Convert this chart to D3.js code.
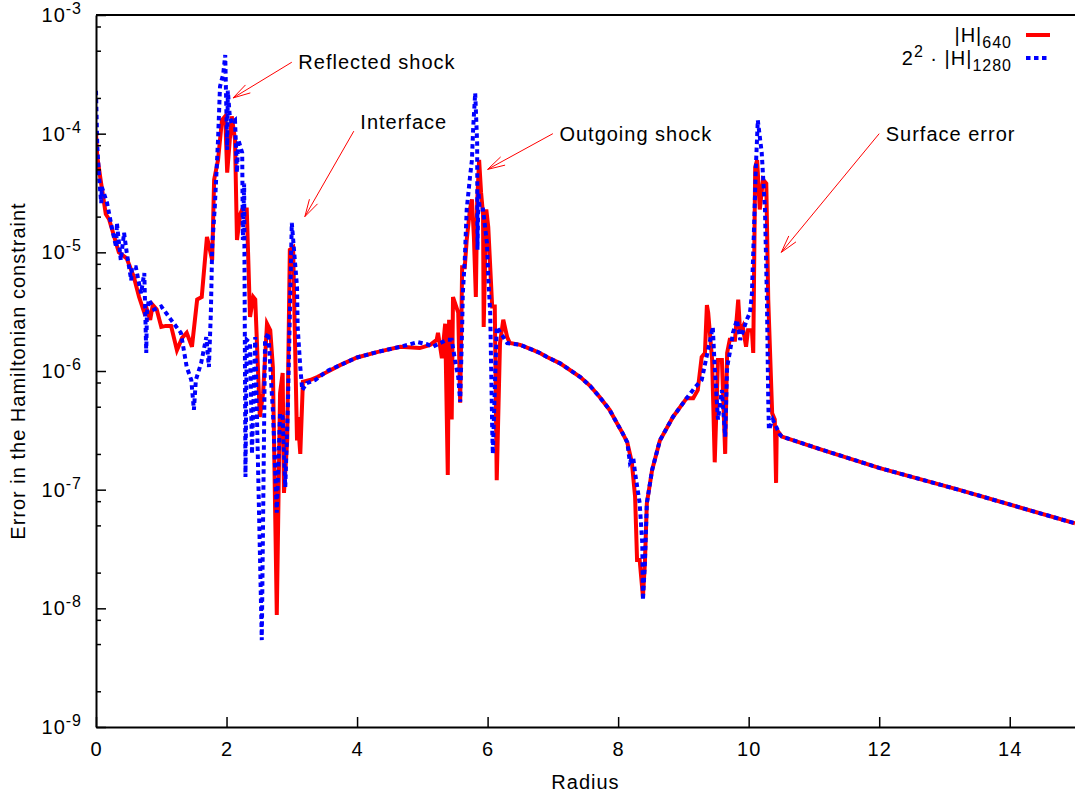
<!DOCTYPE html>
<html>
<head>
<meta charset="utf-8">
<script src="https://cdn.jsdelivr.net/npm/d3@7"></script>
<style>
  body { margin: 0; background: #fff; }
  svg { display: block; font-family: "Liberation Sans", Arial, sans-serif; }
  svg text { letter-spacing: 1px; }
</style>
</head>
<body>
<svg id="chart" width="1075" height="800"></svg>
<script>
// Hamiltonian-constraint error vs radius, [radius, |H|] pairs
const h640 = [
  [0.00,1.0e-4],[0.02,6.4e-5],[0.07,4.1e-5],[0.15,2.1e-5],[0.20,1.9e-5],[0.28,1.35e-5],[0.35,1.0e-5],
  [0.47,8.9e-6],[0.58,6.2e-6],[0.66,4.2e-6],[0.74,3.1e-6],[0.78,3.3e-6],[0.83,2.7e-6],[0.87,3.6e-6],
  [0.93,3.3e-6],[1.00,2.35e-6],[1.07,2.4e-6],[1.15,2.4e-6],[1.24,1.5e-6],[1.32,1.9e-6],[1.39,2.1e-6],
  [1.47,1.6e-6],[1.55,4.0e-6],[1.62,4.2e-6],[1.70,1.35e-5],[1.78,8.6e-6],[1.81,4.1e-5],[1.87,6.0e-5],
  [1.93,1.3e-4],[1.98,1.4e-4],[2.01,4.7e-5],[2.05,8.9e-5],[2.08,1.4e-4],[2.13,8.9e-5],[2.16,1.27e-5],
  [2.21,2.1e-5],[2.24,2.3e-5],[2.31,2.3e-5],[2.36,2.85e-6],[2.41,4.2e-6],[2.44,4.0e-6],[2.51,4.1e-7],
  [2.56,6.5e-7],[2.62,2.5e-6],[2.67,2.2e-6],[2.71,1.08e-6],[2.77,8.8e-9],[2.82,6.5e-7],[2.86,9.6e-7],
  [2.88,9.4e-8],[2.93,2.6e-7],[2.97,1.05e-5],[3.02,1.1e-5],[3.08,2.6e-7],[3.09,4.1e-7],[3.13,2.0e-7],
  [3.17,8.1e-7],[3.28,8.4e-7],[3.39,8.9e-7],[3.54,9.8e-7],[3.74,1.12e-6],[4.00,1.3e-6],[4.32,1.45e-6],
  [4.66,1.6e-6],[4.96,1.56e-6],[5.12,1.66e-6],[5.22,1.83e-6],[5.24,2.1e-6],[5.30,1.28e-6],[5.35,2.5e-6],
  [5.39,1.33e-7],[5.41,2.7e-6],[5.45,3.9e-7],[5.47,4.2e-6],[5.55,3.1e-6],[5.58,5.4e-7],[5.61,7.5e-6],
  [5.65,7.5e-6],[5.68,1.27e-5],[5.73,2.3e-5],[5.76,2.8e-5],[5.79,1.35e-5],[5.82,4.2e-6],[5.84,2.6e-5],
  [5.87,6.0e-5],[5.90,3.2e-5],[5.93,2.1e-5],[5.94,2.35e-6],[5.98,2.3e-5],[6.01,1.64e-5],[6.07,3.5e-6],
  [6.11,3.5e-6],[6.14,1.2e-7],[6.19,1.72e-6],[6.24,2.7e-6],[6.30,1.93e-6],[6.34,1.72e-6],[6.50,1.66e-6],
  [6.70,1.5e-6],[6.80,1.42e-6],[6.91,1.31e-6],[7.11,1.16e-6],[7.42,8.9e-7],[7.57,7.5e-7],[7.72,6.0e-7],
  [7.87,4.7e-7],[7.98,3.65e-7],[8.06,3.05e-7],[8.14,2.5e-7],
  [8.21,1.7e-7],[8.26,8.7e-8],[8.29,2.55e-8],[8.33,2.55e-8],[8.38,1.25e-8],[8.41,2.4e-8],[8.44,7.7e-8],
  [8.52,1.46e-7],[8.64,2.6e-7],[8.84,4.1e-7],[9.05,5.9e-7],[9.15,5.9e-7],[9.22,6.9e-7],[9.28,1.31e-6],
  [9.33,1.42e-6],[9.36,3.6e-6],[9.38,3.1e-6],[9.44,1.24e-6],[9.48,1.7e-7],[9.53,1.24e-6],[9.59,1.24e-6],
  [9.64,2.0e-7],[9.67,1.42e-6],[9.71,1.83e-6],[9.79,1.83e-6],[9.84,4.0e-6],[9.87,2.1e-6],[9.91,2.35e-6],
  [9.96,1.6e-6],[9.99,2.2e-6],[10.05,2.2e-6],[10.07,1.42e-6],[10.10,5.2e-5],[10.13,6.0e-5],[10.17,2.3e-5],
  [10.22,4.1e-5],[10.27,3.8e-5],[10.30,4.0e-6],[10.36,4.4e-7],[10.40,3.9e-7],[10.42,1.14e-7],[10.43,3.2e-7],
  [10.51,2.8e-7],[11.09,2.2e-7],[12.01,1.52e-7],[13.24,9.9e-8],[15.0,5.2e-8]
];

// 2^2 times the 1280-zone error
const h1280 = [
  [0.00,2.3e-4],[0.02,7.7e-5],[0.05,4.1e-5],[0.08,2.6e-5],[0.09,3.55e-5],[0.17,2.6e-5],[0.25,1.54e-5],
  [0.31,1.1e-5],[0.32,1.77e-5],[0.38,8.6e-6],[0.43,1.46e-5],[0.47,1.0e-5],[0.54,5.8e-6],[0.55,7.5e-6],
  [0.61,7.5e-6],[0.69,4.5e-6],[0.74,6.7e-6],[0.77,1.42e-6],[0.78,3.1e-6],[0.81,4.0e-6],[0.89,3.3e-6],
  [1.00,3.5e-6],[1.15,2.7e-6],[1.30,2.1e-6],[1.39,1.08e-6],[1.46,8.4e-7],[1.50,4.7e-7],[1.53,8.4e-7],
  [1.61,1.16e-6],[1.69,1.93e-6],[1.73,1.08e-6],[1.76,3.1e-6],[1.78,1.1e-5],[1.82,2.4e-5],[1.87,8.9e-5],
  [1.90,2.5e-4],[1.95,3.2e-4],[1.98,4.6e-4],[2.01,7.3e-5],[2.02,2.3e-4],[2.05,1.4e-4],[2.08,1.23e-4],
  [2.13,1.3e-4],[2.16,4.7e-5],[2.18,8.9e-5],[2.24,6.9e-5],[2.25,1.27e-5],[2.27,3.8e-5],[2.29,1.28e-7],
  [2.31,1.83e-6],[2.36,1.72e-6],[2.39,2.0e-7],[2.44,1.93e-6],[2.54,5.4e-9],[2.59,1.83e-6],[2.64,2.1e-6],
  [2.70,5.7e-7],[2.71,4.7e-7],[2.77,6.4e-8],[2.82,4.4e-7],[2.86,4.1e-7],[2.90,1.05e-7],[2.94,5.0e-7],
  [3.00,1.77e-5],[3.08,5.1e-6],[3.09,2.35e-6],[3.13,1.08e-6],[3.16,6.9e-7],[3.23,7.9e-7],[3.36,8.4e-7],
  [3.54,1.0e-6],[3.74,1.12e-6],[4.00,1.3e-6],[4.32,1.45e-6],[4.66,1.6e-6],[4.93,1.75e-6],[5.07,1.68e-6],
  [5.16,1.6e-6],[5.27,1.72e-6],[5.38,1.83e-6],[5.45,1.83e-6],[5.50,1.24e-6],[5.55,8.9e-7],[5.58,5.5e-7],
  [5.61,2.35e-6],[5.62,4.5e-6],[5.65,8.6e-6],[5.68,2.3e-5],[5.73,4.3e-5],[5.76,6.0e-5],[5.78,1.14e-4],
  [5.81,2.2e-4],[5.84,8.3e-5],[5.845,1.05e-5],[5.86,3.2e-5],[5.88,2.3e-5],[5.93,2.3e-5],[5.99,1.2e-5],
  [6.01,6.2e-6],[6.04,3.1e-6],[6.07,3.4e-7],[6.08,2.0e-7],[6.14,2.35e-6],[6.30,1.72e-6],[6.50,1.66e-6],
  [6.70,1.5e-6],[6.80,1.42e-6],[6.91,1.31e-6],[7.11,1.16e-6],[7.42,8.9e-7],[7.57,7.5e-7],[7.72,6.0e-7],
  [7.87,4.7e-7],[7.98,3.65e-7],[8.06,3.05e-7],[8.14,2.5e-7],
  [8.18,1.7e-7],[8.23,1.88e-7],[8.26,1.38e-7],[8.33,7.7e-8],[8.37,3.55e-8],[8.38,1.17e-8],[8.41,2.4e-8],
  [8.44,7.7e-8],[8.52,1.46e-7],[8.64,2.6e-7],[8.84,4.1e-7],[9.05,5.9e-7],[9.18,7.3e-7],[9.28,8.4e-7],
  [9.41,1.83e-6],[9.45,2.35e-6],[9.48,1.08e-6],[9.53,3.9e-7],[9.59,6.9e-7],[9.64,2.8e-7],[9.67,1.08e-6],
  [9.71,1.42e-6],[9.76,2.1e-6],[9.82,2.7e-6],[9.87,1.83e-6],[9.97,2.7e-6],[10.02,3.1e-6],[10.05,4.5e-6],
  [10.08,1.46e-5],[10.11,5.2e-5],[10.14,1.3e-4],[10.20,6.9e-5],[10.25,2.3e-5],[10.28,4.0e-6],[10.30,5.7e-7],
  [10.31,3.2e-7],[10.37,3.9e-7],[10.48,2.9e-7],[10.51,2.8e-7],[11.09,2.2e-7],[12.01,1.52e-7],[13.24,9.9e-8],
  [15.0,5.2e-8]
];

const xTicks = [0, 2, 4, 6, 8, 10, 12, 14];
const yExponents = [-9, -8, -7, -6, -5, -4, -3];
const yMinorMantissas = [2, 5, 8];

// Labelled arrows: label anchor, arrow tail and arrow head in data coordinates
const annotations = [
  { text: "Reflected shock", label: [3.1, 4.0e-4],  tail: [3.0, 4.0e-4],  head: [2.1, 2.0e-4] },
  { text: "Interface",       label: [4.05, 1.25e-4], tail: [3.95, 1.05e-4], head: [3.2, 2.0e-5] },
  { text: "Outgoing shock",  label: [7.1, 1.0e-4],  tail: [7.0, 1.0e-4],  head: [6.0, 5.0e-5] },
  { text: "Surface error",   label: [12.1, 1.0e-4], tail: [12.0, 1.0e-4], head: [10.5, 1.0e-5] }
];

const FONT = 20;
const plot = { left: 96, top: 15, right: 1075, bottom: 727 };

const svg = d3.select("#chart");
const x = d3.scaleLinear().domain([0, 15]).range([plot.left, plot.right]);
const y = d3.scaleLog().domain([1e-9, 1e-3]).range([plot.bottom, plot.top]);

svg.append("defs").append("clipPath").attr("id", "plot-clip")
  .append("rect")
  .attr("x", plot.left).attr("y", plot.top)
  .attr("width", plot.right - plot.left).attr("height", plot.bottom - plot.top);

// Curves
const line = d3.line().x(d => x(d[0])).y(d => y(d[1]));
const curves = svg.append("g").attr("clip-path", "url(#plot-clip)");
curves.append("path").datum(h640)
  .attr("d", line).attr("fill", "none")
  .attr("stroke", "#ff0000").attr("stroke-width", 4).attr("stroke-linejoin", "miter")
  .attr("stroke-miterlimit", 4);
curves.append("path").datum(h1280)
  .attr("d", line).attr("fill", "none")
  .attr("stroke", "#0000ff").attr("stroke-width", 4).attr("stroke-dasharray", "4.5,3.5");

// Axes
const xAxis = d3.axisBottom(x).tickValues(xTicks).tickSizeInner(-10).tickSizeOuter(0)
  .tickPadding(15).tickFormat(d3.format("d"));
const gx = svg.append("g").attr("transform", `translate(0,${plot.bottom})`).call(xAxis);
gx.selectAll("text").attr("font-size", FONT).attr("fill", "#000").attr("font-family", null);

const yMajor = yExponents.map(e => Math.pow(10, e));
const yMinor = [];
yExponents.slice(0, -1).forEach(e => yMinorMantissas.forEach(mm => yMinor.push(mm * Math.pow(10, e))));

const gyMinor = svg.append("g").attr("transform", `translate(${plot.left},0)`)
  .call(d3.axisLeft(y).tickValues(yMinor).tickSizeInner(-5).tickSizeOuter(0).tickFormat(""));
gyMinor.select(".domain").remove();

const gy = svg.append("g").attr("transform", `translate(${plot.left},0)`)
  .call(d3.axisLeft(y).tickValues(yMajor).tickSizeInner(-10).tickSizeOuter(0).tickFormat(""));

svg.selectAll(".tick line").attr("stroke", "#000").attr("stroke-width", 1.5);
svg.selectAll(".domain").attr("stroke", "#000").attr("stroke-width", 2);

// Power-of-ten tick labels
const yLabels = svg.append("g").attr("font-size", FONT).attr("fill", "#000");
yExponents.forEach(e => {
  const t = yLabels.append("text")
    .attr("x", 82).attr("y", y(Math.pow(10, e))).attr("dy", "0.35em")
    .attr("text-anchor", "end");
  t.append("tspan").text("10");
  t.append("tspan").attr("font-size", FONT * 0.8).attr("dy", -8).text(`-${-e}`);
});

// Top border
svg.append("line")
  .attr("x1", plot.left).attr("x2", plot.right)
  .attr("y1", plot.top).attr("y2", plot.top)
  .attr("stroke", "#000").attr("stroke-width", 2);

// Axis titles
svg.append("text")
  .attr("x", (plot.left + plot.right) / 2).attr("y", 789)
  .attr("text-anchor", "middle").attr("font-size", FONT).text("Radius");
svg.append("text")
  .attr("transform", `translate(25,${(plot.top + plot.bottom) / 2}) rotate(-90)`)
  .attr("text-anchor", "middle").attr("font-size", FONT)
  .text("Error in the Hamiltonian constraint");

// Annotations
const ann = svg.append("g");
annotations.forEach(a => {
  const [tx, ty] = [x(a.tail[0]), y(a.tail[1])];
  const [hx, hy] = [x(a.head[0]), y(a.head[1])];
  const ang = Math.atan2(ty - hy, tx - hx);
  const len = 18, spread = 15 * Math.PI / 180;
  const b1 = [hx + len * Math.cos(ang + spread), hy + len * Math.sin(ang + spread)];
  const b2 = [hx + len * Math.cos(ang - spread), hy + len * Math.sin(ang - spread)];
  ann.append("path")
    .attr("d", `M${tx},${ty}L${hx},${hy}M${b1[0]},${b1[1]}L${hx},${hy}L${b2[0]},${b2[1]}`)
    .attr("fill", "none").attr("stroke", "#ff0000").attr("stroke-width", 1);
  ann.append("text")
    .attr("x", x(a.label[0])).attr("y", y(a.label[1])).attr("dy", "0.35em")
    .attr("font-size", FONT).text(a.text);
});

// Legend
const legend = svg.append("g").attr("font-size", FONT);
const l1 = legend.append("text").attr("x", 1012).attr("y", 42).attr("text-anchor", "end");
l1.append("tspan").text("|H|");
l1.append("tspan").attr("font-size", FONT * 0.8).attr("dy", 6).text("640");
const l2 = legend.append("text").attr("x", 1012).attr("y", 65).attr("text-anchor", "end");
l2.append("tspan").text("2");
l2.append("tspan").attr("font-size", FONT * 0.8).attr("dy", -8).text("2");
l2.append("tspan").attr("dy", 8).text(" \u00b7 |H|");
l2.append("tspan").attr("font-size", FONT * 0.8).attr("dy", 6).text("1280");
legend.append("line").attr("x1", 1026).attr("x2", 1050).attr("y1", 35).attr("y2", 35)
  .attr("stroke", "#ff0000").attr("stroke-width", 4);
legend.append("line").attr("x1", 1026).attr("x2", 1050).attr("y1", 58).attr("y2", 58)
  .attr("stroke", "#0000ff").attr("stroke-width", 4).attr("stroke-dasharray", "4.5,3.5");
</script>
</body>
</html>
